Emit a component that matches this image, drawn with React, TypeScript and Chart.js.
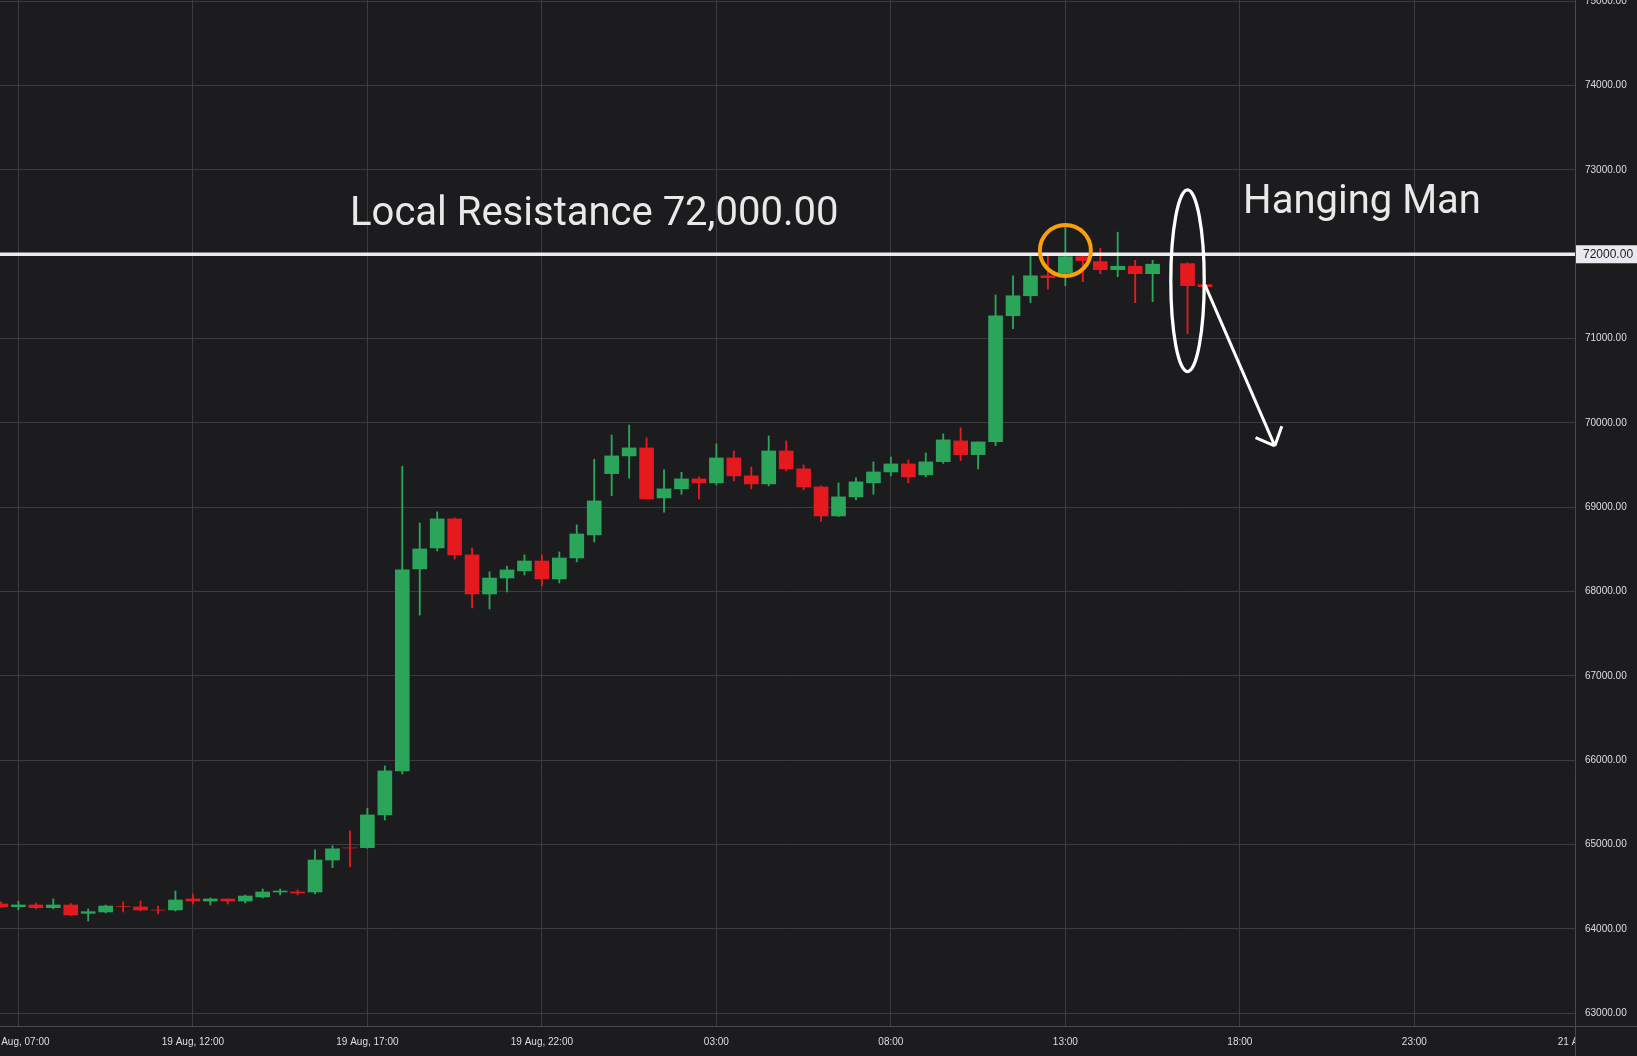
import React, { useEffect, useRef } from 'react';
import { Chart, registerables } from 'chart.js';

Chart.register(...registerables);

// Half-hour candles, hours counted from 19 Aug 00:00
const slotHours = [
  6.5, 7, 7.5, 8, 8.5, 9, 9.5, 10, 10.5, 11, 11.5, 12, 12.5, 13, 13.5, 14, 14.5, 15, 15.5, 16,
  16.5, 17, 17.5, 18, 18.5, 19, 19.5, 20, 20.5, 21, 21.5, 22, 22.5, 23, 23.5, 24, 24.5, 25, 25.5, 26,
  26.5, 27, 27.5, 28, 28.5, 29, 29.5, 30, 30.5, 31, 31.5, 32, 32.5, 33, 33.5, 34, 34.5, 35, 35.5, 36,
  36.5, 37, 37.5, 38, 38.5, 39, 39.5, 40.5, 41,
];
const opens = [
  64296, 64264, 64284, 64252, 64284, 64185, 64201, 64268, 64261, 64224, 64225, 64355, 64331, 64355, 64331, 64379, 64438, 64438, 64438, 64817,
  64961, 64964, 65352, 65874, 68269, 68518, 68862, 68435, 67972, 68161, 68245, 68363, 68150, 68399, 68672, 69399, 69609, 69704, 69111, 69218,
  69336, 69289, 69585, 69372, 69277, 69668, 69455, 69241, 68897, 69123, 69289, 69419, 69514, 69384, 69541, 69787, 69624, 69779, 71271, 71508,
  71745, 71775, 71972, 71913, 71817, 71858, 71770, 71889, 71640,
];
const highs = [
  64320, 64328, 64308, 64355, 64300, 64237, 64284, 64320, 64332, 64272, 64450, 64414, 64367, 64355, 64403, 64473, 64473, 64462, 64939, 64986,
  65164, 65431, 65933, 69486, 68814, 68945, 68874, 68518, 68234, 68304, 68435, 68435, 68470, 68791, 69569, 69857, 69975, 69822, 69443, 69415,
  69360, 69751, 69668, 69478, 69845, 69787, 69502, 69253, 69289, 69348, 69538, 69597, 69561, 69645, 69870, 69941, 69775, 71517, 71745, 71982,
  71982, 72355, 72010, 72070, 72262, 71929, 71929, 71901, 71640,
];
const lows = [
  64255, 64228, 64237, 64237, 64154, 64094, 64189, 64201, 64213, 64177, 64213, 64296, 64284, 64296, 64308, 64367, 64403, 64403, 64414, 64727,
  64739, 64957, 65292, 65838, 67722, 68482, 68387, 67806, 67794, 67995, 68197, 68067, 68102, 68352, 68589, 69138, 69344, 69095, 68941, 69154,
  69099, 69265, 69313, 69218, 69253, 69431, 69206, 68834, 68890, 69087, 69154, 69372, 69289, 69360, 69520, 69553, 69455, 69731, 71118, 71426,
  71588, 71627, 71675, 71770, 71734, 71426, 71438, 71059, 71616,
];
const closes = [
  64261, 64284, 64252, 64284, 64166, 64205, 64272, 64267, 64225, 64223, 64343, 64331, 64355, 64331, 64390, 64438, 64450, 64426, 64817, 64950,
  64960, 65352, 65874, 68257, 68506, 68862, 68435, 67972, 68161, 68257, 68363, 68150, 68399, 68684, 69075, 69609, 69704, 69099, 69218, 69336,
  69289, 69585, 69372, 69277, 69668, 69455, 69241, 68897, 69123, 69301, 69419, 69514, 69360, 69538, 69799, 69624, 69775, 71271, 71508, 71745,
  71723, 71972, 71925, 71817, 71858, 71770, 71882, 71628, 71616,
];

const xTickHours = [7, 12, 17, 22, 27, 32, 37, 42, 47, 52];
const xTickLabels = [
  '19 Aug, 07:00', '19 Aug, 12:00', '19 Aug, 17:00', '19 Aug, 22:00',
  '03:00', '08:00', '13:00', '18:00', '23:00', '21 Aug, 04:00',
];
const yTicks = [63000, 64000, 65000, 66000, 67000, 68000, 69000, 70000, 71000, 72000, 73000, 74000, 75000];

const X_MIN = 6.4728;
const X_MAX = 51.6027;
const Y_MIN = 62849;
const Y_MAX = 75015;

const resistanceLevel = 72000;
const resistanceText = 'Local Resistance 72,000.00';
const patternText = 'Hanging Man';
const resistanceTextAnchor = { x: 23.5, y: 72348 };
const patternTextAnchor = { x: 45.5, y: 72493 };
const touchCircleAnchor = { x: 37, y: 72045 };
const patternEllipseAnchor = { x: 40.5, y: 71686 };
const arrowFrom = { x: 41, y: 71636 };
const arrowTo = { x: 43, y: 69727 };

const BG = '#1c1c1f';
const GRID = '#3c3c40';
const AXIS = '#4a4a4e';
const LABEL = '#dedede';
const GREEN = '#2aa55a';
const RED = '#e41a1f';
const LINE_WHITE = '#ececf0';
const ORANGE = '#f9a10c';
const TEXT_WHITE = '#e9e9e9';
const AXIS_FONT = '"Liberation Sans", Arial, sans-serif';

const colorOf = (i: number) => (closes[i] >= opens[i] ? GREEN : RED);

const zeroPad = (s: any) => {
  s.paddingLeft = 0;
  s.paddingRight = 0;
  s.paddingTop = 0;
  s.paddingBottom = 0;
};

const bgPlugin = {
  id: 'bg',
  beforeDraw(chart: any) {
    const { ctx, width, height } = chart;
    ctx.save();
    ctx.fillStyle = BG;
    ctx.fillRect(0, 0, width, height);
    ctx.restore();
  },
};

const annotationPlugin = {
  id: 'annotations',
  afterDatasetsDraw(chart: any) {
    const { ctx, chartArea } = chart;
    const xs = chart.scales.x;
    const ys = chart.scales.y;
    const px = (v: number) => xs.getPixelForValue(v);
    const py = (v: number) => ys.getPixelForValue(v);
    ctx.save();
    ctx.beginPath();
    ctx.rect(chartArea.left, chartArea.top, chartArea.right - chartArea.left, chartArea.bottom - chartArea.top);
    ctx.clip();

    // resistance line
    ctx.strokeStyle = LINE_WHITE;
    ctx.lineWidth = 3.4;
    ctx.beginPath();
    ctx.moveTo(chartArea.left, py(resistanceLevel));
    ctx.lineTo(chartArea.right, py(resistanceLevel));
    ctx.stroke();

    // texts
    ctx.fillStyle = TEXT_WHITE;
    ctx.font = '40px Roboto';
    ctx.textAlign = 'center';
    ctx.textBaseline = 'alphabetic';
    ctx.fillText(resistanceText, px(resistanceTextAnchor.x), py(resistanceTextAnchor.y));
    ctx.fillText(patternText, px(patternTextAnchor.x), py(patternTextAnchor.y));

    // orange circle
    ctx.strokeStyle = ORANGE;
    ctx.lineWidth = 4;
    ctx.beginPath();
    ctx.arc(px(touchCircleAnchor.x), py(touchCircleAnchor.y), 25.5, 0, Math.PI * 2);
    ctx.stroke();

    // ellipse
    ctx.strokeStyle = '#ffffff';
    ctx.lineWidth = 3.3;
    ctx.beginPath();
    ctx.ellipse(px(patternEllipseAnchor.x), py(patternEllipseAnchor.y), 16.7, 90.8, 0, 0, Math.PI * 2);
    ctx.stroke();

    // arrow
    const x1 = px(arrowFrom.x), y1 = py(arrowFrom.y);
    const x2 = px(arrowTo.x), y2 = py(arrowTo.y);
    const ang = Math.atan2(y2 - y1, x2 - x1);
    const headLen = 21;
    const spread = (43 * Math.PI) / 180;
    ctx.lineWidth = 3;
    ctx.lineCap = 'butt';
    ctx.beginPath();
    ctx.moveTo(x1, y1);
    ctx.lineTo(x2, y2);
    ctx.moveTo(x2, y2);
    ctx.lineTo(x2 - headLen * Math.cos(ang - spread), y2 - headLen * Math.sin(ang - spread));
    ctx.moveTo(x2, y2);
    ctx.lineTo(x2 - headLen * Math.cos(ang + spread), y2 - headLen * Math.sin(ang + spread));
    ctx.stroke();
    ctx.restore();
  },
  afterDraw(chart: any) {
    const { ctx, chartArea, width, height } = chart;
    const ys = chart.scales.y;
    ctx.save();
    // clip x labels under the price column
    ctx.fillStyle = BG;
    ctx.fillRect(chartArea.right + 1, chartArea.bottom + 1, width - chartArea.right - 1, height - chartArea.bottom - 1);
    ctx.strokeStyle = AXIS;
    ctx.lineWidth = 1;
    ctx.beginPath();
    ctx.moveTo(Math.round(chartArea.right) + 0.5, chartArea.bottom);
    ctx.lineTo(Math.round(chartArea.right) + 0.5, height);
    ctx.moveTo(chartArea.right, Math.round(chartArea.bottom) + 0.5);
    ctx.lineTo(width, Math.round(chartArea.bottom) + 0.5);
    ctx.stroke();

    // price tag for resistance level
    const yy = ys.getPixelForValue(resistanceLevel);
    ctx.fillStyle = '#e9e9ef';
    ctx.fillRect(chartArea.right + 1, yy - 9, width - chartArea.right - 1, 18);
    ctx.fillStyle = '#1c1c1f';
    ctx.font = `12px ${AXIS_FONT}`;
    ctx.textAlign = 'left';
    ctx.textBaseline = 'middle';
    ctx.fillText(resistanceLevel.toFixed(2), chartArea.right + 8, yy + 0.5);
    ctx.restore();
  },
};

export default function App() {
  const ref = useRef<HTMLCanvasElement>(null);

  useEffect(() => {
    document.body.style.margin = '0';
    const canvas = ref.current;
    if (!canvas) return;

    const bodies = slotHours.map((h, i) => ({ x: h, y: [opens[i], closes[i]] }));
    const wicks = slotHours.map((h, i) => ({ x: h, y: [lows[i], highs[i]] }));

    const chart = new Chart(canvas, {
      type: 'bar',
      data: {
        datasets: [
          {
            label: 'body',
            data: bodies as any,
            barThickness: 14,
            grouped: false,
            borderWidth: 0,
            borderSkipped: false,
            backgroundColor: (c: any) => colorOf(c.dataIndex),
          },
          {
            label: 'wick',
            data: wicks as any,
            barThickness: 1.2,
            grouped: false,
            borderWidth: 0,
            borderSkipped: false,
            backgroundColor: (c: any) => colorOf(c.dataIndex),
          },
        ],
      },
      options: {
        animation: false,
        responsive: false,
        maintainAspectRatio: false,
        devicePixelRatio: 1,
        events: [],
        layout: { padding: 0 },
        plugins: { legend: { display: false }, tooltip: { enabled: false } },
        scales: {
          x: {
            type: 'linear',
            position: 'bottom',
            min: X_MIN,
            max: X_MAX,
            offset: false,
            bounds: 'data',
            grid: {
              offset: false,
              drawTicks: false,
              lineWidth: 1,
              color: (c: any) => (c.tick && c.tick.value > X_MAX ? 'rgba(0,0,0,0)' : GRID),
            },
            border: { display: true, color: AXIS, width: 1 },
            ticks: {
              autoSkip: false,
              maxRotation: 0,
              minRotation: 0,
              padding: 10,
              color: LABEL,
              font: { family: AXIS_FONT, size: 10 },
              callback: (v: any) => {
                const i = xTickHours.indexOf(Number(v));
                return i >= 0 ? xTickLabels[i] : '';
              },
            },
            afterBuildTicks: (s: any) => {
              s.ticks = xTickHours.map((v) => ({ value: v }));
            },
            afterFit: (s: any) => {
              s.height = 30;
              zeroPad(s);
            },
          } as any,
          y: {
            type: 'linear',
            position: 'right',
            min: Y_MIN,
            max: Y_MAX,
            bounds: 'data',
            grid: { drawTicks: false, color: GRID, lineWidth: 1 },
            border: { display: true, color: AXIS, width: 1 },
            ticks: {
              padding: 10,
              color: LABEL,
              font: { family: AXIS_FONT, size: 10 },
              callback: (v: any) => Number(v).toFixed(2),
            },
            afterBuildTicks: (s: any) => {
              s.ticks = yTicks.map((v) => ({ value: v }));
            },
            afterFit: (s: any) => {
              s.width = 62;
              zeroPad(s);
            },
          } as any,
        },
      },
      plugins: [bgPlugin, annotationPlugin],
    });

    return () => chart.destroy();
  }, []);

  return (
    <div
      style={{
        position: 'fixed',
        left: 0,
        top: 0,
        width: 1637,
        height: 1056,
        overflow: 'hidden',
        background: BG,
      }}
    >
      <canvas ref={ref} width={1637} height={1056} style={{ display: 'block', width: 1637, height: 1056 }} />
    </div>
  );
}
